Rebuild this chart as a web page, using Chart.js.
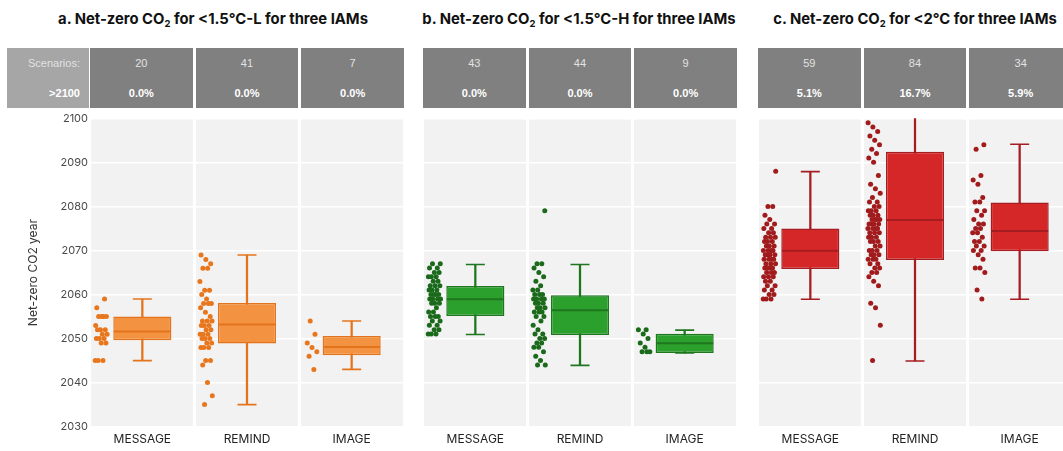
<!DOCTYPE html>
<html><head><meta charset="utf-8">
<script src="https://cdn.jsdelivr.net/npm/chart.js@4.4.1/dist/chart.umd.min.js"></script>
<style>
body{margin:0;width:1063px;height:451px;overflow:hidden;background:#fff;position:relative;font-family:'Liberation Sans',Arial,sans-serif;}
.title{position:absolute;top:12px;font-family:Inter,'Liberation Sans',sans-serif;font-weight:bold;font-size:14.8px;line-height:14px;color:#111;white-space:nowrap;transform:translateX(-50%);}
.title sub{font-size:9.5px;vertical-align:-3px;line-height:0;}
.cell{position:absolute;top:47.5px;height:60px;background:#808080;color:#e2e2e2;font-size:11px;text-align:center;}
.cell .r1{position:absolute;left:0;right:0;top:9px;line-height:12px;}
.cell .r2{position:absolute;left:0;right:0;top:39px;line-height:12px;font-weight:bold;color:#fff;}
.head{background:#a6a6a6;text-align:right;}
.head .r1,.head .r2{right:9px;left:auto;}
canvas{position:absolute;top:110px;}
</style></head>
<body>
<div class="title" style="left:213px">a. Net-zero CO<sub>2</sub> for &lt;1.5°C-L for three IAMs</div>
<div class="title" style="left:579px">b. Net-zero CO<sub>2</sub> for &lt;1.5°C-H for three IAMs</div>
<div class="title" style="left:915px">c. Net-zero CO<sub>2</sub> for &lt;2°C for three IAMs</div>
<div class="cell head" style="left:7px;width:82px"><div class="r1">Scenarios:</div><div class="r2">&gt;2100</div></div>
<div id="cells"></div>
<canvas id="pa"></canvas>
<canvas id="pb"></canvas>
<canvas id="pc"></canvas>
<script>
// ---- data ----
const iams = ['MESSAGE', 'REMIND', 'IMAGE'];
const yTicks = [2030, 2040, 2050, 2060, 2070, 2080, 2090, 2100];

const scenariosL = [20, 41, 7];
const above2100L = [0.0, 0.0, 0.0];
const scenariosH = [43, 44, 9];
const above2100H = [0.0, 0.0, 0.0];
const scenarios2 = [59, 84, 34];
const above2100_2 = [5.1, 16.7, 5.9];

// individual scenario net-zero years (visible, <=2100)
const msgL = [2045,2045,2045,2049,2049,2050,2050,2050,2051,2051,2052,2052,2052,2053,2055,2055,2055,2055,2057,2059];
const remL = [2035,2037,2040,2044,2045,2045,2048,2048,2048,2049,2049,2050,2050,2050,2051,2051,2051,2052,2052,2053,2053,2053,2054,2054,2054,2055,2056,2057,2058,2058,2058,2059,2060,2061,2061,2063,2066,2066,2067,2068,2069];
const imgL = [2043,2046,2047,2048,2049,2051,2054];
const msgH = [2051,2051,2051,2052,2052,2053,2053,2054,2054,2055,2055,2055,2056,2056,2057,2058,2058,2058,2059,2059,2059,2059,2060,2060,2060,2060,2061,2061,2061,2062,2062,2062,2063,2063,2064,2064,2064,2065,2065,2066,2066,2067,2067];
const remH = [2044,2044,2045,2046,2047,2048,2048,2049,2049,2050,2050,2051,2051,2052,2053,2054,2055,2055,2056,2056,2056,2057,2057,2057,2058,2058,2058,2059,2059,2059,2059,2060,2060,2060,2061,2061,2062,2063,2064,2065,2066,2067,2067,2079];
const imgH = [2047,2047,2047,2048,2049,2050,2051,2052,2052];
const msg2 = [2059,2059,2059,2060,2060,2061,2061,2062,2062,2063,2063,2064,2064,2064,2065,2065,2065,2066,2066,2066,2066,2067,2067,2067,2068,2068,2068,2068,2069,2069,2069,2069,2070,2070,2070,2070,2071,2071,2071,2072,2072,2072,2073,2073,2073,2074,2074,2075,2075,2076,2076,2077,2078,2080,2080,2088];
const rem2 = [2045,2053,2057,2058,2062,2063,2064,2065,2065,2066,2066,2067,2067,2068,2068,2068,2069,2069,2069,2070,2070,2070,2071,2071,2072,2072,2072,2073,2073,2073,2074,2074,2074,2075,2075,2075,2075,2076,2076,2076,2076,2077,2077,2077,2077,2078,2078,2078,2079,2079,2079,2080,2080,2081,2081,2082,2083,2084,2085,2087,2090,2091,2092,2093,2094,2095,2096,2097,2098,2099];
const img2 = [2059,2061,2065,2066,2066,2068,2069,2070,2070,2071,2071,2072,2072,2073,2074,2074,2075,2075,2076,2076,2077,2078,2079,2079,2081,2081,2082,2085,2086,2087,2093,2094];

// box statistics [MESSAGE, REMIND, IMAGE]
const loL  = [2045.0, 2035.0, 2043.0];
const q1L  = [2049.6, 2048.9, 2046.2];
const medL = [2051.6, 2053.2, 2048.1];
const q3L  = [2055.0, 2058.1, 2050.6];
const hiL  = [2059.0, 2069.0, 2054.0];

const loH  = [2050.9, 2043.9, 2046.7];
const q1H  = [2055.1, 2050.8, 2046.7];
const medH = [2058.9, 2056.4, 2048.9];
const q3H  = [2061.9, 2059.8, 2051.1];
const hiH  = [2066.8, 2066.8, 2051.9];

const lo2  = [2058.9, 2044.9, 2058.9];
const q12  = [2065.8, 2067.8, 2069.8];
const med2 = [2069.9, 2076.9, 2074.4];
const q32  = [2075.0, 2092.4, 2080.9];
const hi2  = [2087.9, 2106.0, 2094.1];

// ---- styles ----
const ORANGE = {fill:'#f39341', line:'#e4741c', pt:'#e8761c'};
const GREEN  = {fill:'#2ca02c', line:'#1e761e', pt:'#1b6a1b'};
const RED    = {fill:'#d62728', line:'#a61d21', pt:'#a11b1d'};
const PANEL_W = 314;

// header cells
const cellsEl = document.getElementById('cells');
function addCells(left, counts, shares) {
  const cw = (PANEL_W - 6) / 3;
  counts.forEach((c, i) => {
    const d = document.createElement('div');
    d.className = 'cell';
    d.style.left = (left + i * (cw + 3)) + 'px';
    d.style.width = cw + 'px';
    d.innerHTML = '<div class="r1">' + c + '</div><div class="r2">' + shares[i].toFixed(1) + '%</div>';
    cellsEl.appendChild(d);
  });
}
addCells(90, scenariosL, above2100L);
addCells(423, scenariosH, above2100H);
addCells(758, scenarios2, above2100_2);

const bgPlugin = {
  id: 'panelBg',
  beforeDraw(chart) {
    const {ctx, chartArea: a} = chart;
    ctx.save();
    ctx.fillStyle = '#f2f2f2';
    ctx.fillRect(a.left, a.top, a.right - a.left, a.bottom - a.top);
    ctx.restore();
  }
};

function frac(v) { return v - Math.floor(v); }

function panel(id, left, axisW, pts, lo, q1, med, q3, hi, col, showY) {
  const cv = document.getElementById(id);
  cv.width = axisW + PANEL_W;
  cv.height = 341;
  cv.style.left = (left - axisW) + 'px';
  const jit = [];
  pts.forEach((arr, k) => arr.forEach((v, i) => {
    jit.push({x: k - 0.39 + (frac(i * 0.6180339 + k * 0.37) - 0.5) * 0.12, y: v});
  }));
  const caps = [];
  lo.forEach((v, i) => { caps.push({x: i, y: v}); caps.push({x: i, y: hi[i]}); });
  new Chart(cv, {
    type: 'bar',
    data: {
      labels: iams,
      datasets: [
        {type: 'bar', data: lo.map((v, i) => [v, hi[i]]), grouped: false, barThickness: 1.6,
         backgroundColor: col.line, borderWidth: 0, order: 5, clip: 0},
        {type: 'bar', data: q1.map((v, i) => [v, q3[i]]), grouped: false, barPercentage: 0.555,
         categoryPercentage: 1, backgroundColor: col.fill, borderColor: col.line, borderWidth: 1.5,
         borderSkipped: false, order: 4, clip: 0},
        {type: 'scatter', xAxisID: 'xl', data: med.map((v, i) => ({x: i, y: v})), pointStyle: 'line',
         radius: 28.5, borderColor: col.line, borderWidth: 2, order: 3},
        {type: 'scatter', xAxisID: 'xl', data: caps, pointStyle: 'line', radius: 9.5,
         borderColor: col.line, borderWidth: 1.6, order: 3, clip: 0},
        {type: 'scatter', xAxisID: 'xl', data: jit, radius: 2.5, pointStyle: 'circle',
         backgroundColor: col.pt, borderWidth: 0, order: 1}
      ]
    },
    options: {
      responsive: false, animation: false, events: [],
      layout: {autoPadding: false, padding: {top: 8.3, right: 0, bottom: 0, left: 0}},
      plugins: {legend: {display: false}, tooltip: {enabled: false}},
      scales: {
        x: {type: 'category', offset: true,
            grid: {offset: true, color: '#ffffff', lineWidth: 3, drawTicks: false},
            border: {display: false},
            ticks: {color: '#222', font: {family: 'Inter', size: 12}, padding: 6},
            afterFit: s => { s.height = 24.4; }},
        xl: {type: 'linear', min: -0.5, max: 2.5, offset: false, display: false,
             grid: {offset: false}},
        y: {type: 'linear', min: yTicks[0], max: yTicks[yTicks.length - 1],
            afterBuildTicks: s => { s.ticks = yTicks.map(v => ({value: v})); },
            grid: {color: '#ffffff', lineWidth: 1.5, drawTicks: false},
            border: {display: false},
            ticks: {display: showY, color: '#4a4a4a', font: {family: 'Inter', size: 11}, padding: 2,
                    callback: v => String(v)},
            title: {display: showY, text: 'Net-zero CO2 year', color: '#333',
                    font: {family: 'Inter', size: 12}, padding: {top: 26, bottom: 0}},
            afterFit: s => { s.width = axisW; }}
      }
    },
    plugins: [bgPlugin]
  });
}

panel('pa', 90, 90, [msgL, remL, imgL], loL, q1L, medL, q3L, hiL, ORANGE, true);
panel('pb', 423, 0, [msgH, remH, imgH], loH, q1H, medH, q3H, hiH, GREEN, false);
panel('pc', 758, 0, [msg2, rem2, img2], lo2, q12, med2, q32, hi2, RED, false);
</script>
</body></html>
